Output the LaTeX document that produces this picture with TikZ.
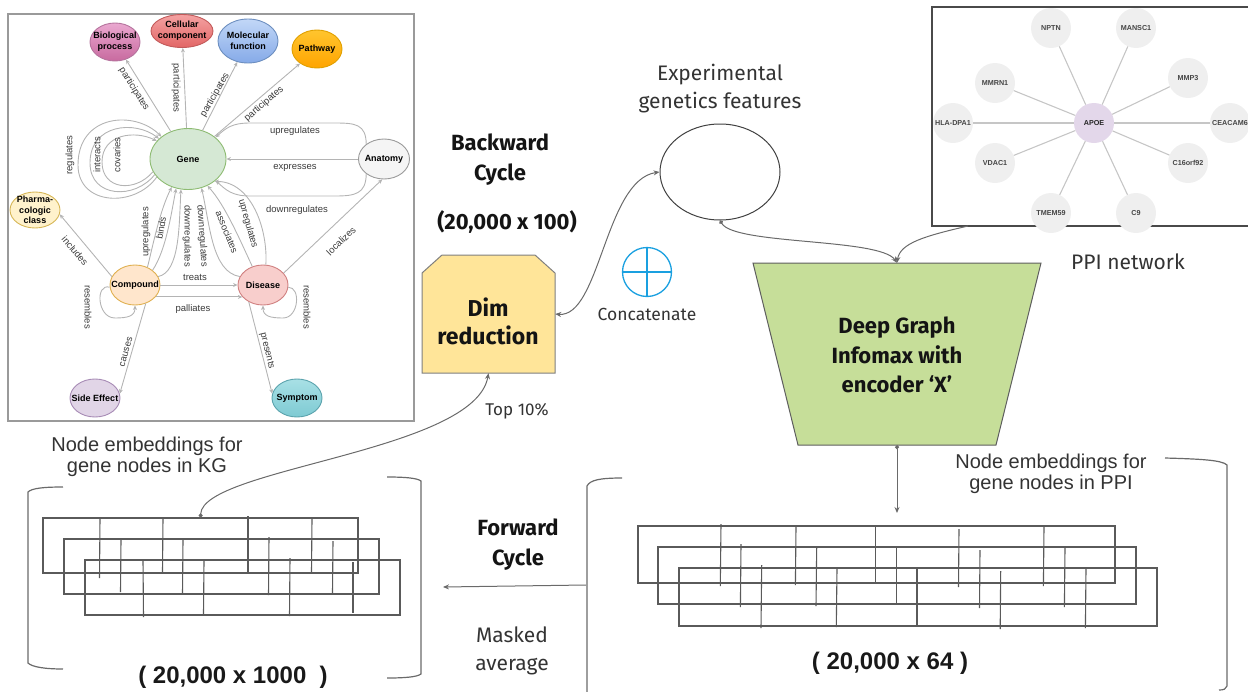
\documentclass[tikz,border=0pt]{standalone}
\usepackage{fontspec}
\setmainfont{Fira Sans}
\newfontfamily\arialfont{Liberation Sans}
\usetikzlibrary{shapes.geometric,arrows.meta}

% schema colours
\definecolor{kgline}{HTML}{B4B4B4}
\definecolor{kgtext}{HTML}{3A3A3A}
\definecolor{kgframe}{HTML}{9A9A9A}
\definecolor{bpT}{HTML}{EAA8D0}\definecolor{bpB}{HTML}{C86A9F}\definecolor{bpD}{HTML}{B5739D}
\definecolor{ccT}{HTML}{F4A2A2}\definecolor{ccB}{HTML}{E26666}\definecolor{ccD}{HTML}{C25A5A}
\definecolor{mfT}{HTML}{C2D7F7}\definecolor{mfB}{HTML}{85AAE8}\definecolor{mfD}{HTML}{6C8EBF}
\definecolor{pwT}{HTML}{FFC52E}\definecolor{pwB}{HTML}{FFA400}\definecolor{pwD}{HTML}{E0A000}
\definecolor{geneF}{HTML}{D5E8D4}\definecolor{geneD}{HTML}{8DBB72}
\definecolor{anatF}{HTML}{F5F5F5}\definecolor{anatD}{HTML}{9A9A9A}
\definecolor{phF}{HTML}{FFF2CC}\definecolor{phD}{HTML}{D6B656}
\definecolor{coF}{HTML}{FFE6CC}\definecolor{coD}{HTML}{E0B050}
\definecolor{diF}{HTML}{F8CECC}\definecolor{diD}{HTML}{D08080}
\definecolor{seF}{HTML}{E1D5E7}\definecolor{seD}{HTML}{A78BB5}
\definecolor{syT}{HTML}{A8E0E5}\definecolor{syB}{HTML}{7ECAD3}\definecolor{syD}{HTML}{5BA3AD}
% PPI colours
\definecolor{ppifill}{HTML}{EFEFEF}
\definecolor{apoeF}{HTML}{E3D7EA}
\definecolor{ppiline}{HTML}{C6C6C6}
\definecolor{ppitext}{HTML}{454545}
\definecolor{ppiframe}{HTML}{4A4A4A}
% pipeline colours
\definecolor{flowc}{HTML}{6A6A6A}
\definecolor{dimF}{HTML}{FFE599}
\definecolor{dimD}{HTML}{7F7F7F}
\definecolor{dgiF}{HTML}{C6DE99}
\definecolor{dgiD}{HTML}{5E5E5E}
\definecolor{catblue}{HTML}{1AA0E0}
\definecolor{txt}{HTML}{333333}
\definecolor{matc}{HTML}{5A5A5A}
\definecolor{brc}{HTML}{6A6A6A}

\tikzset{
  kgnode/.style={ellipse, draw, line width=0.9pt, inner xsep=-7pt, inner ysep=-4pt,
    align=center, text=black, font=\arialfont\bfseries\fontsize{9}{11}\selectfont},
  kgedge/.style={draw=kgline, line width=0.9pt, -{Stealth[length=4.5pt,width=4pt]}},
  kglab/.style={font=\arialfont\fontsize{9.5}{10}\selectfont, text=kgtext, inner sep=0pt},
  ppinode/.style={circle, fill=ppifill, minimum size=40pt, inner sep=0pt,
    font=\arialfont\bfseries\fontsize{7.2}{8}\selectfont, text=ppitext},
  ppiedge/.style={draw=ppiline, line width=1.1pt},
  flow/.style={draw=flowc, line width=1pt},
  matbox/.style={draw=matc, line width=1.1pt, inner sep=0pt},
  matline/.style={draw=matc, line width=1.1pt},
  bracket/.style={draw=brc, line width=1.2pt},
  heading/.style={font=\bfseries\fontsize{22}{30}\selectfont, align=center, text=black!92},
  caption/.style={font=\fontsize{21}{28}\selectfont, align=center, text=txt},
  armtext/.style={font=\arialfont\fontsize{20}{21}\selectfont, align=center, text=txt},
  dimtext/.style={font=\arialfont\bfseries\fontsize{24}{28}\selectfont, text=black!90},
}

\begin{document}
\begin{tikzpicture}[x=1pt,y=-1pt, >={Stealth[length=6pt,width=5pt]}]
\useasboundingbox (0,0) rectangle (1248,691);

% ================= knowledge-graph schema =================
\draw[kgframe, line width=1.5pt] (8,14) rectangle (414,421);

\node[kgnode, top color=bpT, bottom color=bpB, draw=bpD, minimum width=50pt, minimum height=38pt] (bp) at (115,42) {Biological\\process};
\node[kgnode, top color=ccT, bottom color=ccB, draw=ccD, minimum width=62pt, minimum height=33pt] (cc) at (182,31) {Cellular\\component};
\node[kgnode, top color=mfT, bottom color=mfB, draw=mfD, minimum width=60pt, minimum height=44pt] (mf) at (248,41) {Molecular\\function};
\node[kgnode, top color=pwT, bottom color=pwB, draw=pwD, minimum width=50pt, minimum height=38pt] (pw) at (317,49) {Pathway};
\node[kgnode, fill=geneF, draw=geneD, minimum width=76pt, minimum height=61pt] (gene) at (188,159) {Gene};
\node[kgnode, fill=anatF, draw=anatD, minimum width=51pt, minimum height=40pt] (anat) at (384,159) {Anatomy};
\node[kgnode, fill=phF, draw=phD, minimum width=50pt, minimum height=36pt, inner ysep=-8pt,
  font=\arialfont\bfseries\fontsize{9}{10.5}\selectfont] (pharm) at (35,210) {Pharma-\\cologic\\class};
\node[kgnode, fill=coF, draw=coD, minimum width=50pt, minimum height=40pt] (comp) at (135,285) {Compound};
\node[kgnode, fill=diF, draw=diD, minimum width=50pt, minimum height=40pt] (dis) at (263,285) {Disease};
\node[kgnode, fill=seF, draw=seD, minimum width=50pt, minimum height=38pt] (se) at (95,398) {Side Effect};
\node[kgnode, top color=syT, bottom color=syB, draw=syD, minimum width=50pt, minimum height=38pt] (sym) at (297,398) {Symptom};

% gene to annotation terms
\draw[kgedge] (gene) -- (bp);
\draw[kgedge] (gene) -- (cc);
\draw[kgedge] (gene) -- (mf);
\draw[kgedge] (gene) -- (pw);
\node[kglab, rotate=-58] (lpbp) at (134,89) {participates};
\node[kglab, rotate=-90] (lpcc) at (176,88) {participates};
\node[kglab, rotate=60]  (lpmf) at (215,95) {participates};
\node[kglab, rotate=41]  (lppw) at (264,104) {participates};

% gene self loops
\draw[kgedge] (gene.210) .. controls (135,208) and (78,206) .. (78,165) .. controls (78,114) and (135,110) .. (gene.140);
\draw[kgedge] (gene.205) .. controls (135,200) and (90,198) .. (90,163) .. controls (90,124) and (135,120) .. (gene.145);
\draw[kgedge] (gene.200) .. controls (135,193) and (102,190) .. (102,162) .. controls (102,134) and (135,130) .. (gene.150);
\node[kglab, rotate=90] (lreg) at (70,155) {regulates};
\node[kglab, rotate=90] (lint) at (97,155) {interacts};
\node[kglab, rotate=90] (lcov) at (117,155) {covaries};

% anatomy to gene
\draw[kgedge] (anat.140) .. controls (366,124) and (355,123) .. (335,123) -- (250,123) .. controls (232,123) and (226,128) .. (gene.38);
\draw[kgedge] (anat) -- (gene);
\draw[kgedge] (anat.220) .. controls (366,194) and (355,196) .. (335,196) -- (250,196) .. controls (232,196) and (226,190) .. (gene.-38);
\node[kglab] (lupa) at (295,131) {upregulates};
\node[kglab] (lexp) at (295,168) {expresses};
\node[kglab] (ldna) at (297,210) {downregulates};

% disease to anatomy
\draw[kgedge] (dis.30) -- (anat.-95);
\node[kglab, rotate=44] (lloc) at (341,241) {localizes};

% compound to gene
\draw[kgedge] (comp.55) .. controls (153,245) and (160,210) .. (gene.240);
\draw[kgedge] (comp.40) .. controls (166,250) and (171,215) .. (gene.248);
\draw[kgedge] (comp.20) .. controls (180,272) and (179,225) .. (gene.257);
\node[kglab, rotate=90]  (lupc) at (146,232) {upregulates};
\node[kglab, rotate=80]  (lbin) at (161,228) {binds};
\node[kglab, rotate=-90] (ldnc) at (187,236) {downregulates};

% disease to gene
\draw[kgedge] (dis.160) .. controls (212,272) and (210,225) .. (gene.295);
\draw[kgedge] (dis.120) .. controls (240,240) and (225,205) .. (gene.306);
\draw[kgedge] (dis.82) .. controls (268,230) and (252,182) .. (gene.320);
\node[kglab, rotate=-86] (ldnd) at (202,236) {downregulates};
\node[kglab, rotate=-68] (lass) at (227,232) {associates};
\node[kglab, rotate=-74] (lupd) at (248,224) {upregulates};

% compound to disease
\draw[kgedge] (comp) -- (dis);
\draw[kgedge] (comp.-30) -- (dis.-150);
\node[kglab] (ltre) at (195,277) {treats};
\node[kglab] (lpal) at (193,309) {palliates};

% resemblance loops
\draw[kgedge] (comp.185) .. controls (95,283) and (97,318) .. (115,318) .. controls (128,318) and (135,316) .. (comp.south);
\draw[kgedge] (dis.-5) .. controls (301,287) and (299,318) .. (283,318) .. controls (270,318) and (263,316) .. (dis.south);
\node[kglab, rotate=-90] (lrsc) at (88,307) {resembles};
\node[kglab, rotate=-90] (lrsd) at (307,307) {resembles};

% remaining relations
\draw[kgedge] (comp.160) -- (pharm.-10);
\node[kglab, rotate=-50] (linc) at (75,251) {includes};
\draw[kgedge] (comp.-60) -- (se.10);
\node[kglab, rotate=74] (lcau) at (126,352) {causes};
\draw[kgedge] (dis.-130) -- (sym.170);
\node[kglab, rotate=-76] (lpre) at (267,351) {presents};

% ================= PPI neighbourhood =================
\draw[ppiframe, line width=1.3pt] (932,7) rectangle (1262,226);
\node[ppinode, fill=apoeF, text=black!85] (apoe) at (1094,123) {APOE};
\foreach \nm/\px/\py/\lab in {nptn/1051/28/NPTN, mansc/1136/28/MANSC1, mmp/1188/78/MMP3,
    ceacam/1230/123/CEACAM6, corf/1188/163/C16orf92, cnine/1136/213/C9,
    tmem/1051/213/TMEM59, vdac/995/163/VDAC1, hla/953/123/HLA-DPA1, mmrn/995/83/MMRN1} {
  \node[ppinode] (\nm) at (\px,\py) {\lab};
  \draw[ppiedge] (apoe) -- (\nm);
}
\coordinate (ppiout) at (968,226);
\node[caption] (ppilab) at (1128,262) {PPI network};

% ================= pipeline =================
% experimental features
\node[caption] (explab) at (720,89) {Experimental\\genetics features};
\node[ellipse, draw=black!75, line width=1pt, minimum width=120pt, minimum height=96pt] (exp) at (720,172) {};

% backward cycle
\node[heading] (bwd) at (500,160) {Backward\\Cycle};
\node[heading] (bwdsize) at (507,222) {(20,000 x 100)};

% dimensionality reduction block
\draw[fill=dimF, draw=dimD, line width=1pt] (422,273) -- (442,255) -- (535,255) -- (555,273) -- (555,373) -- (422,373) -- cycle;
\node[minimum width=133pt, minimum height=118pt, inner sep=0pt] (dimred) at (488.5,314) {};
\node[heading, font=\bfseries\fontsize{23}{28}\selectfont] (dimlab) at (488,321) {Dim\\reduction};
\node[caption, font=\fontsize{17}{20}\selectfont] (top) at (517,411) {Top 10\%};

% concatenation symbol
\node[circle, draw=catblue, line width=1.3pt, minimum size=49pt, inner sep=0pt] (cat) at (647,272) {};
\draw[catblue, line width=1.3pt] (cat.north) -- (cat.south) (cat.west) -- (cat.east);
\node[caption, font=\fontsize{17.5}{20}\selectfont] (catlab) at (647,314) {Concatenate};

% graph infomax encoder
\draw[fill=dgiF, draw=dgiD, line width=1pt] (753,263) -- (1041,263) -- (996,445) -- (798,445) -- cycle;
\node[minimum width=198pt, minimum height=182pt, inner sep=0pt] (dgi) at (897,354) {};
\node[heading, font=\bfseries\fontsize{22}{29.5}\selectfont] (dgilab) at (897,355) {Deep Graph\\Infomax with\\encoder `X'};

% connectors
\draw[flow, {Circle[length=4pt]}->] (exp.south) .. controls (735,245) and (880,238) .. (dgi.north);
\draw[flow, ->] (ppiout) .. controls (925,236) and (900,243) .. (dgi.north);
\draw[flow, <->] (dimred.east) .. controls (600,318) and (605,180) .. (exp.west);

% ---------- PPI embeddings ----------
\node[armtext] (ppiemblab) at (1051,474) {Node embeddings for\\gene nodes in PPI};
\node[matbox, minimum width=477pt, minimum height=57pt] (ppi1) at (876.5,554.5) {};
\node[matbox, minimum width=478pt, minimum height=57pt] (ppi2) at (897,575.5) {};
\node[matbox, minimum width=478pt, minimum height=58pt] (ppi3) at (918,597) {};
\foreach \xa/\ya/\xb/\yb in {
  721/524/720.3/586, 796/527/795.4/585, 875.7/526/875.7/583, 959/529/958.5/587, 1044/527/1043.4/586,
  741/544/740.4/607, 816.7/548/816/606, 896.7/547/896.7/604, 980/550/979.5/608, 1065/548/1064.4/607,
  761.7/565/761/628, 837/569/836.3/627, 917/568/917/626, 1000.7/571/1000.2/629, 1086/569/1085.4/628}
  \draw[matline] (\xa,\ya) -- (\xb,\yb);
\coordinate (embtop) at (897,513);
\draw[flow, {Circle[length=4pt]}->] (dgi.south) -- (embtop);
\node[dimtext] (ppisize) at (890,663) {(\ 20,000 x 64\ )};
\draw[bracket] (622,478) .. controls (600,478) and (590,480) .. (587,486) -- (587,700);
\draw[bracket] (1165,458) .. controls (1200,459) and (1222,460) .. (1227,465) -- (1227,686) .. controls (1226,689) and (1224,690) .. (1219,690);

% forward cycle
\node[heading] (fwd) at (518,545) {Forward\\Cycle};
\node[caption] (mask) at (512,651) {Masked\\average};
\coordinate (fwdstart) at (586,585);
\coordinate (fwdend) at (443,587);
\draw[flow, ->] (fwdstart) -- (fwdend);

% ---------- KG embeddings ----------
\node[armtext] (kgemblab) at (147,457) {Node embeddings for\\gene nodes in KG};
\node[matbox, minimum width=315pt, minimum height=55pt] (kg1) at (200.5,545.5) {};
\node[matbox, minimum width=315pt, minimum height=55pt] (kg2) at (221.5,566.5) {};
\node[matbox, minimum width=315pt, minimum height=55pt] (kg3) at (242.5,587.5) {};
\foreach \xa/\ya/\xb/\yb in {
  100/518/99.5/578, 163/518/162.5/572, 248/516/248/574, 312/519/311.5/572,
  121/540/120.5/592, 183/540/182.5/594, 269/537/268.5/595, 333/541/332.5/593,
  143/560/143.5/617, 204/561/203.5/614, 290/558/289.5/616, 353/562/353/613}
  \draw[matline] (\xa,\ya) -- (\xb,\yb);
\node[dimtext] (kgsize) at (233,677) {(\ 20,000 x 1000\ \ )};
\draw[bracket] (63,487) .. controls (45,487) and (32,488) .. (28,492) -- (28,663) .. controls (32,667) and (45,669) .. (63,669);
\draw[bracket] (387,477) .. controls (405,477) and (417,478) .. (421,481) -- (421,674) .. controls (417,677) and (405,678) .. (387,678);

\draw[flow, {Circle[length=4pt]}->] (kg1.north) .. controls (203,468) and (475,452) .. (dimred.south);
\end{tikzpicture}
\end{document}
